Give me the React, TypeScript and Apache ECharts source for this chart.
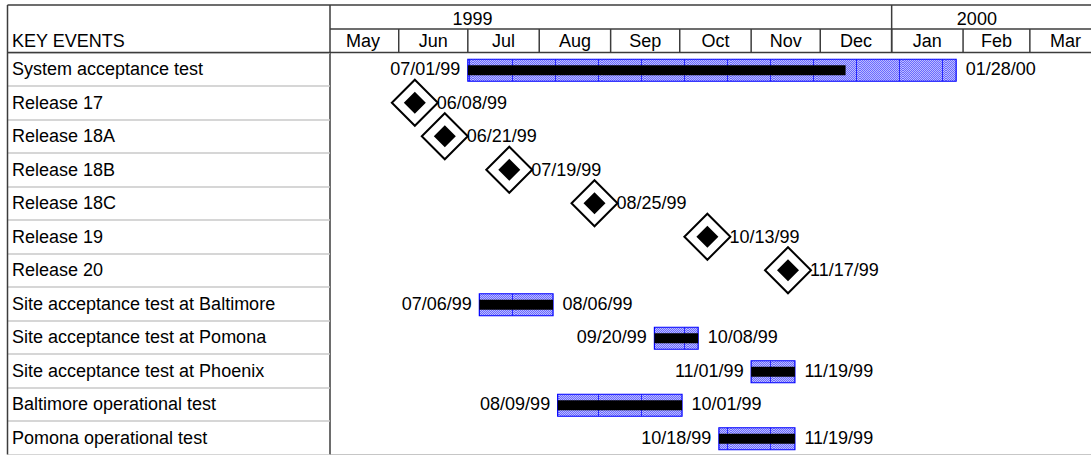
import React, { useEffect, useRef } from "react";
import * as echarts from "echarts";

// ---------- data ----------
const tasks = [
  "System acceptance test",
  "Release 17",
  "Release 18A",
  "Release 18B",
  "Release 18C",
  "Release 19",
  "Release 20",
  "Site acceptance test at Baltimore",
  "Site acceptance test at Pomona",
  "Site acceptance test at Phoenix",
  "Baltimore operational test",
  "Pomona operational test",
];

// bars (dates inclusive)
const barRows = [0, 7, 8, 9, 10, 11];
const barStarts = ["1999-07-01", "1999-07-06", "1999-09-20", "1999-11-01", "1999-08-09", "1999-10-18"];
const barEnds = ["2000-01-28", "1999-08-06", "1999-10-08", "1999-11-19", "1999-10-01", "1999-11-19"];
const barDoneThrough = ["1999-12-11", "1999-08-06", "1999-10-08", "1999-11-19", "1999-10-01", "1999-11-19"];

// milestones
const milestoneRows = [1, 2, 3, 4, 5, 6];
const milestoneDates = ["1999-06-08", "1999-06-21", "1999-07-19", "1999-08-25", "1999-10-13", "1999-11-17"];

// time scale header
const monthNames = ["May", "Jun", "Jul", "Aug", "Sep", "Oct", "Nov", "Dec", "Jan", "Feb", "Mar"];
const monthStarts = [
  "1999-05-01", "1999-06-01", "1999-07-01", "1999-08-01", "1999-09-01", "1999-10-01",
  "1999-11-01", "1999-12-01", "2000-01-01", "2000-02-01", "2000-03-01", "2000-04-01",
];
const yearNames = ["1999", "2000"];
const yearStarts = ["1999-01-01", "2000-01-01"];
const yearLabelDates = ["1999-07-03", "2000-02-07"];

// ---------- helpers ----------
const DAY = 86400000;
const ms = (s: string) => {
  const [y, m, d] = s.split("-").map(Number);
  return Date.UTC(y, m - 1, d);
};
const fmt = (s: string) => {
  const [y, m, d] = s.split("-");
  return `${m}/${d}/${y.slice(2)}`;
};
const FONT = "'Liberation Sans', Arial, Helvetica, sans-serif";
const FS = 18;
const X_MIN = Date.UTC(1999, 4, 2, 4);
const X_MAX = Date.UTC(2000, 2, 27, 13);

function makePattern(): any {
  const w = 43;
  const h = 4;
  const c = document.createElement("canvas");
  c.width = w;
  c.height = h;
  const ctx = c.getContext("2d");
  if (!ctx) return "#9090f8";
  for (let i = 0; i < w; i++) {
    for (let j = 0; j < h; j++) {
      ctx.fillStyle = (i + j) % 2 === 0 ? "#6a6aff" : "#bcbcff";
      ctx.fillRect(i, j, 1, 1);
    }
  }
  ctx.fillStyle = "#2a2aff";
  ctx.fillRect(39, 0, 1, h);
  return { image: c.toDataURL(), repeat: "repeat", imageWidth: w, imageHeight: h };
}

export default function App() {
  const ref = useRef<HTMLDivElement>(null);

  useEffect(() => {
    if (!ref.current) return;
    const chart = echarts.init(ref.current, undefined, { renderer: "svg" });
    const pattern = makePattern();

    const monthData = monthNames.map((_, i) => [ms(monthStarts[i]), ms(monthStarts[i + 1]), 0]);
    const yearData = yearNames.map((_, i) => [ms(yearStarts[i]), ms(yearLabelDates[i]), 0]);
    const barData = barRows.map((r, i) => [
      r,
      ms(barStarts[i]),
      ms(barEnds[i]) + DAY,
      ms(barDoneThrough[i]) + DAY,
    ]);
    const msData = milestoneRows.map((r, i) => [ms(milestoneDates[i]), r]);

    const lineDark = "#3c3c3c";

    chart.setOption({
      animation: false,
      backgroundColor: "#ffffff",
      grid: { left: 330, right: 0, top: 52.5, bottom: 0.5, containLabel: false },
      xAxis: {
        type: "value",
        min: X_MIN,
        max: X_MAX,
        axisLine: { show: true, lineStyle: { color: "#b4b4b4", width: 1.5 } },
        axisTick: { show: false },
        axisLabel: { show: false },
        splitLine: { show: false },
      },
      yAxis: {
        type: "category",
        data: tasks,
        inverse: true,
        axisLine: { show: true, lineStyle: { color: lineDark, width: 1.5 } },
        axisTick: { show: true, interval: 0, length: 322, lineStyle: { color: "#c8c8c8", width: 1.5 } },
        axisLabel: {
          margin: 318,
          align: "left",
          fontSize: FS,
          color: "#000",
          fontFamily: FONT,
          interval: 0,
        },
        splitLine: { show: false },
      },
      graphic: [
        { type: "line", shape: { x1: 7.5, y1: 5, x2: 1091, y2: 5 }, style: { stroke: lineDark, lineWidth: 1.5 }, z: 100 },
        { type: "line", shape: { x1: 330, y1: 29, x2: 1091, y2: 29 }, style: { stroke: lineDark, lineWidth: 1.5 }, z: 100 },
        { type: "line", shape: { x1: 7.5, y1: 52.5, x2: 1091, y2: 52.5 }, style: { stroke: lineDark, lineWidth: 1.5 }, z: 100 },
        { type: "line", shape: { x1: 7.5, y1: 5, x2: 7.5, y2: 454.5 }, style: { stroke: lineDark, lineWidth: 1.5 }, z: 100 },
        { type: "line", shape: { x1: 330, y1: 5, x2: 330, y2: 52.5 }, style: { stroke: lineDark, lineWidth: 1.5 }, z: 100 },
        {
          type: "text",
          x: 12,
          y: 41,
          style: { text: "KEY EVENTS", fontSize: FS, fontFamily: FONT, fill: "#000", verticalAlign: "middle", align: "left" },
          z: 100,
        },
      ],
      series: [
        {
          type: "custom",
          name: "months",
          coordinateSystem: "cartesian2d",
          encode: { x: [0, 1], y: 2 },
          clip: false,
          silent: true,
          data: monthData,
          renderItem: (params: any, api: any) => {
            const x0 = api.coord([api.value(0), 0])[0];
            const x1 = api.coord([api.value(1), 0])[0];
            const left = params.coordSys.x;
            const children: any[] = [
              {
                type: "text",
                style: {
                  text: monthNames[params.dataIndex],
                  x: (x0 + x1) / 2,
                  y: 41,
                  align: "center",
                  verticalAlign: "middle",
                  fontSize: FS,
                  fontFamily: FONT,
                  fill: "#000",
                },
              },
            ];
            if (x0 > left + 2) {
              children.push({
                type: "line",
                shape: { x1: x0, y1: 29, x2: x0, y2: 52.5 },
                style: { stroke: lineDark, lineWidth: 1.5 },
              });
            }
            return { type: "group", children };
          },
        },
        {
          type: "custom",
          name: "years",
          coordinateSystem: "cartesian2d",
          encode: { x: [0, 1], y: 2 },
          clip: false,
          silent: true,
          data: yearData,
          renderItem: (params: any, api: any) => {
            const xs = api.coord([api.value(0), 0])[0];
            const xl = api.coord([api.value(1), 0])[0];
            const left = params.coordSys.x;
            const children: any[] = [
              {
                type: "text",
                style: {
                  text: yearNames[params.dataIndex],
                  x: xl,
                  y: 18.5,
                  align: "center",
                  verticalAlign: "middle",
                  fontSize: FS,
                  fontFamily: FONT,
                  fill: "#000",
                },
              },
            ];
            if (xs > left + 2) {
              children.push({
                type: "line",
                shape: { x1: xs, y1: 5, x2: xs, y2: 52.5 },
                style: { stroke: lineDark, lineWidth: 1.5 },
              });
            }
            return { type: "group", children };
          },
        },
        {
          type: "custom",
          name: "bars",
          coordinateSystem: "cartesian2d",
          encode: { x: [1, 2, 3], y: 0 },
          clip: false,
          data: barData,
          renderItem: (params: any, api: any) => {
            const row = api.value(0);
            const s = api.coord([api.value(1), row]);
            const e = api.coord([api.value(2), row]);
            const p = api.coord([api.value(3), row]);
            const cy = s[1] + 1;
            const i = params.dataIndex;
            return {
              type: "group",
              children: [
                {
                  type: "rect",
                  shape: { x: s[0], y: cy - 11, width: e[0] - s[0], height: 22 },
                  style: { fill: pattern, stroke: "#0000ff", lineWidth: 1.2 },
                },
                {
                  type: "rect",
                  shape: { x: s[0], y: cy - 5, width: p[0] - s[0], height: 10 },
                  style: { fill: "#000" },
                },
                {
                  type: "text",
                  style: {
                    text: fmt(barStarts[i]),
                    x: s[0] - 7.5,
                    y: cy - 1,
                    align: "right",
                    verticalAlign: "middle",
                    fontSize: FS,
                    fontFamily: FONT,
                    fill: "#000",
                  },
                },
                {
                  type: "text",
                  style: {
                    text: fmt(barEnds[i]),
                    x: e[0] + 9.5,
                    y: cy - 1,
                    align: "left",
                    verticalAlign: "middle",
                    fontSize: FS,
                    fontFamily: FONT,
                    fill: "#000",
                  },
                },
              ],
            };
          },
        },
        {
          type: "scatter",
          name: "milestones",
          symbol: "diamond",
          symbolSize: 46,
          clip: false,
          data: msData,
          itemStyle: { color: "#ffffff", borderColor: "#000", borderWidth: 2, opacity: 1 },
          label: {
            show: true,
            position: "right",
            distance: -2,
            fontSize: FS,
            fontFamily: FONT,
            color: "#000",
            formatter: (p: any) => fmt(milestoneDates[p.dataIndex]),
          },
          z: 3,
        },
        {
          type: "scatter",
          name: "milestoneCore",
          symbol: "diamond",
          symbolSize: 22,
          clip: false,
          data: msData,
          itemStyle: { color: "#000", opacity: 1 },
          z: 4,
        },
      ],
    });
    return () => chart.dispose();
  }, []);

  return (
    <div
      ref={ref}
      style={{ position: "absolute", left: 0, top: 0, width: 1091, height: 455, background: "#fff" }}
    />
  );
}
